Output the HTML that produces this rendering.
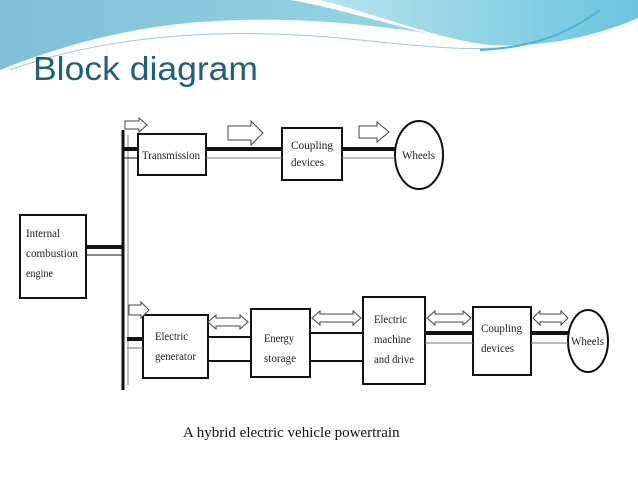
<!DOCTYPE html>
<html><head><style>
html,body{margin:0;padding:0;background:#fff;}
body{width:638px;height:479px;position:relative;overflow:hidden;}
.t{font-family:"Liberation Serif",serif;font-size:12px;fill:#222;}
</style></head><body>
<svg width="638" height="479" viewBox="0 0 638 479" xmlns="http://www.w3.org/2000/svg" style="position:absolute;left:0;top:0">
<defs>
<linearGradient id="g1" x1="0" y1="0" x2="1" y2="0">
<stop offset="0" stop-color="#7fbfd6"/><stop offset="0.5" stop-color="#8fd0e2"/><stop offset="1" stop-color="#a6dde9"/></linearGradient>
<linearGradient id="g2" x1="0" y1="0" x2="1" y2="0">
<stop offset="0" stop-color="#b7e4ee"/><stop offset="1" stop-color="#6cc4de"/></linearGradient>
</defs>
<path d="M0,0 H638 V20 C560,45 520,50 470,40 C380,25 300,15 200,22 C120,28 50,50 0,70 Z" fill="url(#g1)"/>
<path d="M290,0 C350,10 420,35 470,42 C540,50 600,35 638,25 V0 Z" fill="#ffffff"/>
<path d="M320,0 C380,15 440,40 490,45 C560,48 610,30 638,18 V0 Z" fill="url(#g2)"/>
<path d="M10,70 C120,30 250,28 360,40 C420,46 470,52 520,46" stroke="#9ccad8" stroke-width="1" fill="none"/>
<path d="M600,10 C560,40 520,48 480,50" stroke="#4ab4d6" stroke-width="2" fill="none"/>
<text x="33" y="80" font-family="Liberation Sans,sans-serif" font-size="33" fill="#1e6079" textLength="225" lengthAdjust="spacingAndGlyphs">Block diagram</text>
<g stroke="#111" fill="#fff" stroke-width="2">
<rect x="20" y="215" width="66" height="83"/>
<rect x="138" y="134" width="68" height="41"/>
<rect x="282" y="128" width="60" height="52"/>
<ellipse cx="419" cy="155" rx="24" ry="34"/>
<rect x="143" y="315" width="65" height="63"/>
<rect x="251" y="309" width="59" height="68"/>
<rect x="363" y="297" width="62" height="87"/>
<rect x="473" y="307" width="58" height="68"/>
<ellipse cx="588" cy="341" rx="20" ry="31"/>
</g>
<g stroke="#111" fill="none">
<line x1="123" y1="130" x2="123" y2="390" stroke-width="3"/>
<line x1="128" y1="135" x2="128" y2="385" stroke-width="1" stroke="#888"/>
<line x1="86" y1="247" x2="123" y2="247" stroke-width="4"/>
<line x1="86" y1="255" x2="123" y2="255" stroke-width="1"/>
<line x1="123" y1="149" x2="138" y2="149" stroke-width="4"/>
<line x1="123" y1="158" x2="138" y2="158" stroke-width="1"/>
<line x1="206" y1="149" x2="282" y2="149" stroke-width="4"/>
<line x1="206" y1="158" x2="282" y2="158" stroke-width="1" stroke="#777"/>
<line x1="342" y1="149" x2="395" y2="149" stroke-width="4"/>
<line x1="342" y1="158" x2="395" y2="158" stroke-width="1" stroke="#777"/>
<line x1="127" y1="339" x2="143" y2="339" stroke-width="4"/>
<line x1="127" y1="348" x2="143" y2="348" stroke-width="1" stroke="#777"/>
<line x1="208" y1="337" x2="251" y2="337" stroke-width="2"/>
<line x1="208" y1="361" x2="251" y2="361" stroke-width="2"/>
<line x1="310" y1="333" x2="363" y2="333" stroke-width="2"/>
<line x1="310" y1="361" x2="363" y2="361" stroke-width="2"/>
<line x1="425" y1="333" x2="473" y2="333" stroke-width="4"/>
<line x1="425" y1="343" x2="473" y2="343" stroke-width="1" stroke="#777"/>
<line x1="531" y1="333" x2="568" y2="333" stroke-width="4"/>
<line x1="531" y1="343" x2="568" y2="343" stroke-width="1" stroke="#777"/>
</g>
<g stroke="#444" fill="#fff" stroke-width="1">
<path d="M125,121 H139 V118 L147,125 L139,132 V129 H125 Z"/>
<path d="M228,126 H251 V121 L263,133 L251,145 V140 H228 Z"/>
<path d="M359,126 H377 V122 L389,132 L377,142 V138 H359 Z"/>
<path d="M129,305 H141 V302 L149,310 L141,318 V315 H129 Z"/>
<path d="M208,322 L216,315 V318 H240 V315 L248,322 L240,329 V326 H216 V329 Z"/>
<path d="M312,318 L320,311 V314 H353 V311 L361,318 L353,325 V322 H320 V325 Z"/>
<path d="M427,318 L435,311 V314 H463 V311 L471,318 L463,325 V322 H435 V325 Z"/>
<path d="M533,318 L540,311 V314 H561 V311 L568,318 L561,325 V322 H540 V325 Z"/>
</g>
<g class="t" lengthAdjust="spacingAndGlyphs">
<text x="26" y="237" textLength="34" lengthAdjust="spacingAndGlyphs">Internal</text>
<text x="26" y="257" textLength="52" lengthAdjust="spacingAndGlyphs">combustion</text>
<text x="26" y="277" textLength="27" lengthAdjust="spacingAndGlyphs">engine</text>
<text x="142" y="159" textLength="58" lengthAdjust="spacingAndGlyphs">Transmission</text>
<text x="291" y="149" textLength="42" lengthAdjust="spacingAndGlyphs">Coupling</text>
<text x="291" y="166" textLength="33" lengthAdjust="spacingAndGlyphs">devices</text>
<text x="402" y="159" textLength="33" lengthAdjust="spacingAndGlyphs">Wheels</text>
<text x="155" y="340" textLength="33" lengthAdjust="spacingAndGlyphs">Electric</text>
<text x="155" y="360" textLength="41" lengthAdjust="spacingAndGlyphs">generator</text>
<text x="264" y="342" textLength="30" lengthAdjust="spacingAndGlyphs">Energy</text>
<text x="264" y="362" textLength="32" lengthAdjust="spacingAndGlyphs">storage</text>
<text x="374" y="323" textLength="33" lengthAdjust="spacingAndGlyphs">Electric</text>
<text x="374" y="343" textLength="37" lengthAdjust="spacingAndGlyphs">machine</text>
<text x="374" y="363" textLength="40" lengthAdjust="spacingAndGlyphs">and drive</text>
<text x="481" y="332" textLength="41" lengthAdjust="spacingAndGlyphs">Coupling</text>
<text x="481" y="352" textLength="33" lengthAdjust="spacingAndGlyphs">devices</text>
<text x="571" y="345" textLength="33" lengthAdjust="spacingAndGlyphs">Wheels</text>
</g>
<text x="183" y="437" font-family="Liberation Serif,serif" font-size="15" fill="#111">A hybrid electric vehicle powertrain</text>
</svg>
</body></html>
